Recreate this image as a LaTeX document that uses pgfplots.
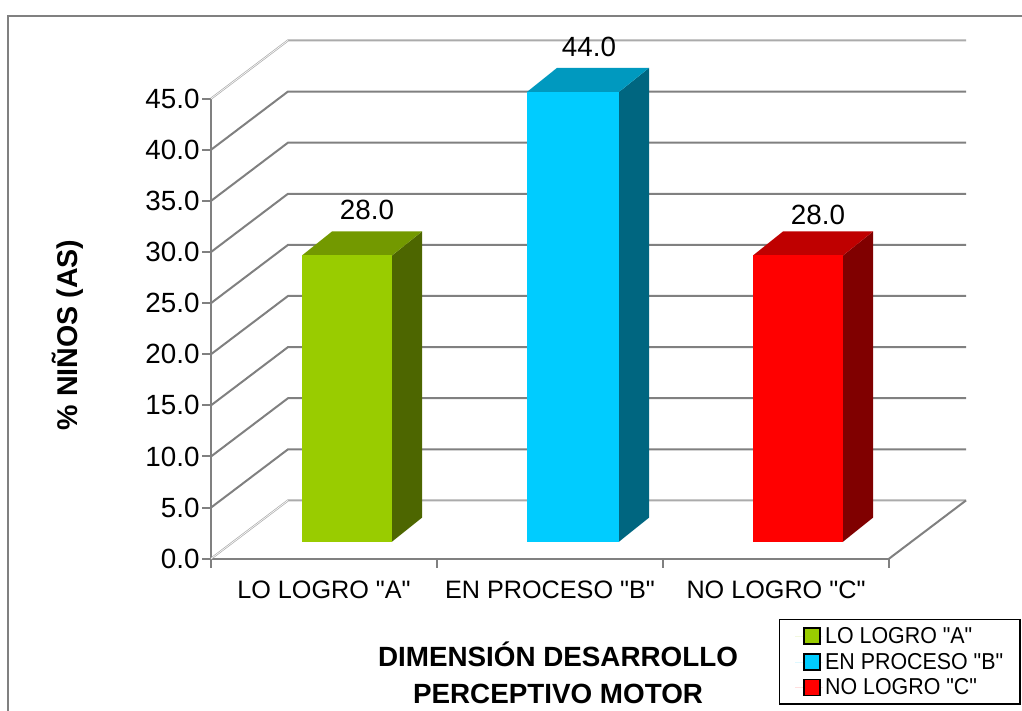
\documentclass[border=0pt]{standalone}
\usepackage{pgfplots}
\usepackage{fontspec}
\pgfplotsset{compat=1.18}
\setmainfont{Liberation Sans}
\newfontfamily\plainfont{Liberation Sans}
\newfontfamily\narrowfont[FakeStretch=0.93]{Liberation Sans}
\definecolor{axisgray}{HTML}{808080}
\definecolor{edgegray}{HTML}{ABABAB}
\definecolor{greenF}{HTML}{99CC00}\definecolor{greenS}{HTML}{4D6600}\definecolor{greenT}{HTML}{739900}
\definecolor{blueF}{HTML}{00CCFF}\definecolor{blueS}{HTML}{006680}\definecolor{blueT}{HTML}{0099BF}
\definecolor{redF}{HTML}{FF0000}\definecolor{redS}{HTML}{800000}\definecolor{redT}{HTML}{BF0000}
\newcommand{\bigtext}{\fontsize{27.8}{30}\selectfont}
\begin{document}
\begin{tikzpicture}[x=1pt,y=1pt]
\path[use as bounding box] (0,0) rectangle (1022,711);
% outer chart frame
\draw[axisgray,line width=2.4pt] (8,-5) -- (8,695) -- (1030,695);
\begin{axis}[
  at={(211pt,152.3pt)}, anchor=south west,
  scale only axis, width=678pt, height=460pt,
  xmin=211, xmax=889, ymin=0, ymax=45,
  clip=false,
  axis lines=left,
  axis line style={-,draw=axisgray,line width=2pt},
  tick style={draw=axisgray,line width=2pt},
  tick align=outside, major tick length=9pt,
  ytick={0,5,...,45},
  xtick={211,437,663,889},
  x tick label as interval,
  xticklabels={LO LOGRO "A",EN PROCESO "B",NO LOGRO "C"},
  xticklabel style={font=\plainfont\fontsize{25.2}{28}\selectfont,yshift=-10pt},
  yticklabel style={font=\bigtext,xshift=1pt},
  /pgf/number format/assume math mode=true,
  yticklabel={\pgfmathprintnumber[fixed,fixed zerofill,precision=1]{\tick}},
  legend image code/.code={\path[draw=none] (-9.5pt,0pt) rectangle (19pt,0pt);\fill[#1] (0pt,-8pt) rectangle (16pt,8pt);},
  legend cell align=left,
  legend style={
    at={(axis cs:1021,-5.87)}, anchor=north east,
    draw=black, line width=1.6pt,
    font=\narrowfont\fontsize{23}{25}\selectfont,
    inner xsep=15pt, inner ysep=6pt,
    row sep=4pt,
    nodes={line width=0pt},
  },
]
% back wall grid lines, each running from the front axis to the rear plane
\addplot[forget plot,axisgray,line width=2pt] coordinates {(211,5) (288,10.7) (966,10.7)};
\addplot[forget plot,axisgray,line width=2pt] coordinates {(211,10) (288,15.7) (966,15.7)};
\addplot[forget plot,axisgray,line width=2pt] coordinates {(211,15) (288,20.7) (966,20.7)};
\addplot[forget plot,axisgray,line width=2pt] coordinates {(211,20) (288,25.7) (966,25.7)};
\addplot[forget plot,axisgray,line width=2pt] coordinates {(211,25) (288,30.7) (966,30.7)};
\addplot[forget plot,axisgray,line width=2pt] coordinates {(211,30) (288,35.7) (966,35.7)};
\addplot[forget plot,axisgray,line width=2pt] coordinates {(211,35) (288,40.7) (966,40.7)};
\addplot[forget plot,axisgray,line width=2pt] coordinates {(211,40) (288,45.7) (966,45.7)};
\addplot[forget plot,edgegray,line width=2pt] coordinates {(211,45) (288,50.7) (966,50.7)};
\addplot[forget plot,white,line width=0.6pt] coordinates {(211,45) (288,50.7)};
\addplot[forget plot,edgegray,line width=2pt] coordinates {(211,0) (288,5.7) (966,5.7)};
\addplot[forget plot,white,line width=0.6pt] coordinates {(211,0) (288,5.7)};
\addplot[forget plot,axisgray,line width=2pt] coordinates {(889,0) (966,5.7)};
% bars: side, top, then front face
\addplot[forget plot,fill=greenS,draw=none,yshift=17pt] coordinates {(392,0) (422,2.35) (422,30.35) (392,28)};
\addplot[forget plot,fill=greenT,draw=none,yshift=17pt] coordinates {(302,28) (332,30.35) (422,30.35) (392,28)};
\addplot[forget plot,ybar,bar width=90pt,fill=greenF,draw=none,yshift=17pt] coordinates {(347,28)};
\addplot[forget plot,fill=blueS,draw=none,yshift=17pt] coordinates {(619,0) (649,2.35) (649,46.35) (619,44)};
\addplot[forget plot,fill=blueT,draw=none,yshift=17pt] coordinates {(527,44) (557,46.35) (649,46.35) (619,44)};
\addplot[forget plot,ybar,bar width=92pt,fill=blueF,draw=none,yshift=17pt] coordinates {(573,44)};
\addplot[forget plot,fill=redS,draw=none,yshift=17pt] coordinates {(843,0) (873,2.35) (873,30.35) (843,28)};
\addplot[forget plot,fill=redT,draw=none,yshift=17pt] coordinates {(753,28) (783,30.35) (873,30.35) (843,28)};
\addplot[forget plot,ybar,bar width=90pt,fill=redF,draw=none,yshift=17pt] coordinates {(798,28)};
% legend entries
\addlegendimage{fill=greenF}\addlegendentry{LO LOGRO "A"}
\addlegendimage{fill=blueF}\addlegendentry{EN PROCESO "B"}
\addlegendimage{fill=redF}\addlegendentry{NO LOGRO "C"\rule[-16pt]{0pt}{1pt}}
% value labels
\node[font=\bigtext] at (axis cs:367,34.11) {28.0};
\node[font=\bigtext] at (axis cs:589,50.06) {44.0};
\node[font=\bigtext] at (axis cs:818,33.62) {28.0};
% axis titles
\node[font=\bfseries\fontsize{28.6}{30}\selectfont,rotate=90] at (axis cs:68,21.9) {\% NIÑOS (AS)};
\node[font=\bfseries\bigtext] at (axis cs:558,-9.4) {DIMENSIÓN DESARROLLO};
\node[font=\bfseries\bigtext] at (axis cs:558,-13.2) {PERCEPTIVO MOTOR};
\end{axis}
\end{tikzpicture}
\end{document}
